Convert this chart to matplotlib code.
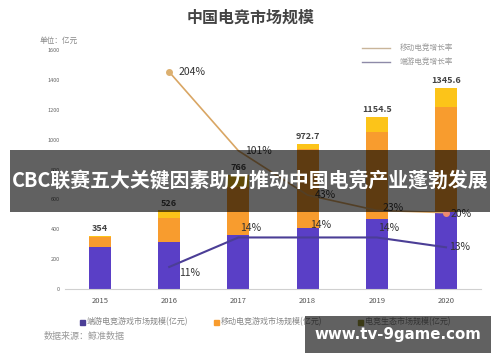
import numpy as np
import matplotlib
matplotlib.use('Agg')
import matplotlib.pyplot as plt
from matplotlib.patches import Rectangle

plt.rcParams['font.family'] = ['Noto Sans CJK SC', 'DejaVu Sans']

years = ['2015', '2016', '2017', '2018', '2019', '2020']
pc_market = [280, 313, 361, 408, 469, 515]
mobile_market = [67, 160, 319, 532, 581, 703]
totals = [354, 526, 766, 972.7, 1154.5, 1345.6]
eco_market = [t - a - b for t, a, b in zip(totals, pc_market, mobile_market)]
total_labels = ['354', '526', '766', '972.7', '1154.5', '1345.6']

mobile_growth = [204, 101, 43, 23, 20]
pc_growth = [11, 14, 14, 14, 13]
growth_years = [1, 2, 3, 4, 5]

c_pc = '#5a3fc6'
c_mob = '#f89c2e'
c_eco = '#fcc419'
c_mob_line = '#d9a664'
c_pc_line = '#4b3e96'

W, H = 500, 362
fig = plt.figure(figsize=(5, 3.62), dpi=100)


def fx(px):
    return px / W


def fy(py):
    return 1 - py / H


ax = fig.add_axes([fx(65.4), fy(289), fx(415.2), (289 - 50) / H])
x = np.arange(len(years))
ax.bar(x, pc_market, width=0.32, color=c_pc, zorder=2)
ax.bar(x, mobile_market, width=0.32, bottom=pc_market, color=c_mob, zorder=2)
ax.bar(x, eco_market, width=0.32, bottom=np.array(pc_market) + np.array(mobile_market),
       color=c_eco, zorder=2)
for i, t in enumerate(totals):
    ax.annotate(total_labels[i], (x[i], t), xytext=(0, 2), textcoords='offset points',
                ha='center', va='bottom', fontsize=6.5, fontweight='bold', color='#444444')

ax.set_xlim(-0.5, 5.5)
ax.set_ylim(0, 1600)
ax.set_yticks(range(0, 1601, 200))
ax.set_yticklabels([str(v) for v in range(0, 1601, 200)], fontsize=4, color='#666666')
ax.set_xticks(x)
ax.set_xticklabels(years, fontsize=5.5, color='#555555')
ax.tick_params(length=0, pad=4)
ax.tick_params(axis='x', pad=6)
for s in ['top', 'right', 'left']:
    ax.spines[s].set_visible(False)
ax.spines['bottom'].set_color('#d0d0d0')
ax.spines['bottom'].set_linewidth(0.8)

# mobile growth line
ax2 = ax.twinx()
ax2.set_ylim(-79.8, 232.7)
ax2.axis('off')
ax2.plot(growth_years, mobile_growth, color=c_mob_line, lw=1.2, zorder=3)
ax2.plot([growth_years[0]], [mobile_growth[0]], 'o', ms=4, color='#dcb070', zorder=4)
ax2.plot([growth_years[-1]], [mobile_growth[-1]], 'o', ms=4, color='#ee8a70', zorder=4)
mob_offsets = [(7, 0), (5, 0), (5, 0), (4, 1.5), (3, -1)]
for xi, v, off in zip(growth_years, mobile_growth, mob_offsets):
    ax2.annotate(f'{v}%', (xi, v), xytext=off, textcoords='offset points',
                 ha='left', va='center', fontsize=7.5, color='#333333')

# pc growth line
ax3 = ax.twinx()
ax3.set_ylim(8.76, 33.06)
ax3.axis('off')
ax3.plot(growth_years, pc_growth, color=c_pc_line, lw=1.5, zorder=3)
pc_offsets = [(7, -4.5), (1, 7), (1.5, 9), (1, 7), (2, 0)]
for xi, v, off in zip(growth_years, pc_growth, pc_offsets):
    ax3.annotate(f'{v}%', (xi, v), xytext=off, textcoords='offset points',
                 ha='left', va='center', fontsize=7.5, color='#333333')

# titles and notes
fig.text(fx(251), fy(18), '中国电竞市场规模', ha='center', va='center',
         fontsize=11.5, fontweight='bold', color='#444444')
fig.text(fx(40), fy(41), '单位：亿元', ha='left', va='center', fontsize=5.5, color='#888888')

# line legend
for py, label, col in [(48, '移动电竞增长率', '#c9b59a'), (62, '端游电竞增长率', '#8e8aa8')]:
    fig.add_artist(plt.Line2D([fx(362), fx(390)], [fy(py), fy(py)], color=col, lw=1))
    fig.text(fx(400), fy(py), label, ha='left', va='center', fontsize=5.5, color='#999999')

# bar legend
for px, label, col in [(80, '端游电竞游戏市场规模(亿元)', c_pc_line),
                       (214, '移动电竞游戏市场规模(亿元)', c_mob),
                       (358, '电竞生态市场规模(亿元)', '#9c9a3a')]:
    fig.add_artist(Rectangle((fx(px), fy(325)), fx(5), 5 / H, color=col))
    fig.text(fx(px + 7), fy(322), label, ha='left', va='center', fontsize=5.8, color='#888888')
fig.text(fx(44), fy(337), '数据来源：鲸准数据', ha='left', va='center', fontsize=6.5, color='#999999')

# overlay banner
fig.add_artist(Rectangle((fx(10), fy(212)), fx(480), 62 / H, color='black', alpha=0.62,
                         zorder=10, lw=0))
fig.text(fx(250), fy(181), 'CBC联赛五大关键因素助力推动中国电竞产业蓬勃发展', ha='center',
         va='center', fontsize=14.3, fontweight='bold', color='white', zorder=11)

# watermark
fig.add_artist(Rectangle((fx(305), fy(353)), fx(186), 37 / H, color='black', alpha=0.62,
                         zorder=10, lw=0))
fig.text(fx(398), fy(334), 'www.tv-9game.com', ha='center', va='center',
         fontsize=10.8, fontweight='bold', color='white', zorder=11, family='DejaVu Sans')

fig.savefig('out.png', dpi=100)
